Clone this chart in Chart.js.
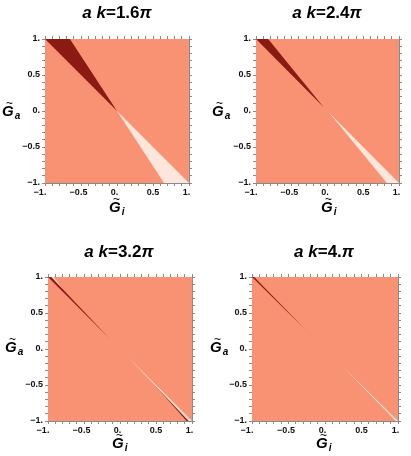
<!DOCTYPE html>
<html>
<head>
<meta charset="utf-8">
<script src="https://cdn.jsdelivr.net/npm/chart.js@4.4.1/dist/chart.umd.min.js"></script>
<style>
  body { margin: 0; background: #fff; width: 411px; height: 456px; position: relative; overflow: hidden;
         font-family: "Liberation Sans", Arial, sans-serif; }
  canvas { position: absolute; }
  .title { position: absolute; font-weight: bold; font-size: 17px; white-space: nowrap; transform: translateX(-50%); color: #000; }
  .title i { font-style: italic; }
  .lab { position: absolute; font-weight: bold; font-style: italic; font-size: 15px; color: #000; white-space: nowrap; }
  .lab .tl { position: absolute; font-size: 12px; left: 4px; top: -6px; font-style: normal; font-weight: normal; }
  .lab sub { font-size: 10px; vertical-align: -3px; margin-left: 1px; }
</style>
</head>
<body>
<canvas id="c0" width="205" height="228" style="left:0;top:0"></canvas>
<canvas id="c1" width="206" height="228" style="left:205px;top:0"></canvas>
<canvas id="c2" width="205" height="228" style="left:0;top:228px"></canvas>
<canvas id="c3" width="206" height="228" style="left:205px;top:228px"></canvas>
<script>
// a k values (in units of pi) for each panel
var panelK = ['1.6', '2.4', '3.2', '4.'];

var tickValues = [-1, -0.5, 0, 0.5, 1];
var tickLabels = ['\u22121.', '\u22120.5', '0.', '0.5', '1.'];
// spaces so the decimal point sits on the tick (like the original)
var tickPad = ['    ', '  ', '  ', '', '  '];

var square = {x: [-1, 1, 1, -1], y: [-1, -1, 1, 1]};

// dark region (upper left of the diagonal)
var darkX = [[-1, -0.654, 0], [-1, -0.83, -0.05], [-1, -0.955, -0.15], [-1, -0.97, -0.25]];
var darkY = [[1, 1, 0], [1, 1, 0.05], [1, 1, 0.15], [1, 1, 0.25]];
// light region (lower right of the diagonal)
var lightX = [[0, 0.654, 1], [0.02, 0.83, 1], [0.1, 0.96, 1], [0.25, 0.97, 1]];
var lightY = [[0, -1, -1], [-0.02, -1, -1], [-0.1, -1, -1], [-0.25, -1, -1]];
// thin extra strips seen in the 3.2 pi panel
var stripLightX = [-0.955, -0.92, -0.72];
var stripLightY = [1, 1, 0.72];
var stripDarkX = [0.5, 0.925, 0.95];
var stripDarkY = [-0.52, -1, -1];

var salmon = '#f99272';
var dark = '#8b1a13';
var light = '#fde6db';

// canvas size and plot area (inside the canvas)
var boxes = [
  {w: 205, h: 228, l: 45, t: 39, r: 189, b: 183},
  {w: 206, h: 228, l: 51, t: 39, r: 194, b: 183},
  {w: 205, h: 228, l: 48, t: 49, r: 192, b: 193},
  {w: 206, h: 228, l: 47, t: 49, r: 193, b: 193}
];

function pts(xs, ys) {
  var out = [];
  for (var i in xs) out.push({x: xs[i], y: ys[i]});
  out.push({x: xs[0], y: ys[0]});
  return out;
}

function poly(xs, ys, color) {
  return {
    data: pts(xs, ys),
    showLine: true,
    fill: 'shape',
    backgroundColor: color,
    borderColor: color,
    borderWidth: 0,
    pointRadius: 0,
    tension: 0
  };
}

function tickLabel(v) {
  for (var i = 0; i < tickValues.length; i++) {
    if (Math.abs(tickValues[i] - v) < 1e-6) return tickLabels[i];
  }
  return '';
}

function axis(pos, showLabels, fitSize) {
  var horiz = pos == 'bottom' || pos == 'top';
  return {
    type: 'linear',
    position: pos,
    min: -1,
    max: 1,
    grid: { drawOnChartArea: false, drawTicks: true, tickLength: 3, color: '#8a8a8a', lineWidth: 1 },
    border: { display: true, color: '#8a8a8a', width: 1 },
    ticks: {
      display: showLabels,
      stepSize: 0.1,
      autoSkip: false,
      maxRotation: 0,
      padding: horiz ? 1 : 2,
      color: '#111',
      font: { family: '"Liberation Sans", Arial, sans-serif', weight: 'bold', size: 9 },
      callback: function(v) {
        var s = tickLabel(v);
        if (horiz && s) s = s + tickPad[tickLabels.indexOf(s)];
        return s;
      }
    },
    afterFit: function(s) {
      if (horiz) s.height = fitSize; else s.width = fitSize;
    }
  };
}

function makePanel(i) {
  var b = boxes[i];
  var sets = [
    poly(darkX[i], darkY[i], dark),
    poly(lightX[i], lightY[i], light)
  ];
  if (i == 2) {
    sets.push(poly(stripLightX, stripLightY, light));
    sets.push(poly(stripDarkX, stripDarkY, dark));
  }
  sets.push(poly(square.x, square.y, salmon));

  new Chart(document.getElementById('c' + i), {
    type: 'scatter',
    data: { datasets: sets },
    options: {
      responsive: false,
      animation: false,
      devicePixelRatio: 1,
      layout: { padding: 0 },
      plugins: { legend: { display: false }, tooltip: { enabled: false } },
      scales: {
        x: axis('bottom', true, b.h - b.b),
        x2: axis('top', false, b.t),
        y: axis('left', true, b.l),
        y2: axis('right', false, b.w - b.r)
      }
    }
  });
}

for (var i = 0; i < 4; i++) makePanel(i);

// titles and axis labels
var titlePos = [[117, 3], [327, 3], [119, 242], [324, 242]];
var yLabPos = [[2, 102], [212, 102], [5, 338], [210, 338]];
var xLabPos = [[109, 198], [321, 198], [112, 434], [316, 434]];
for (var j = 0; j < 4; j++) {
  var t = document.createElement('div');
  t.className = 'title';
  t.style.left = titlePos[j][0] + 'px';
  t.style.top = titlePos[j][1] + 'px';
  t.innerHTML = '<i>a k</i>=' + panelK[j] + '<i>\u03c0</i>';
  document.body.appendChild(t);

  var ya = document.createElement('div');
  ya.className = 'lab';
  ya.style.left = yLabPos[j][0] + 'px';
  ya.style.top = yLabPos[j][1] + 'px';
  ya.innerHTML = '<span class="tl">~</span>G<sub>a</sub>';
  document.body.appendChild(ya);

  var xa = document.createElement('div');
  xa.className = 'lab';
  xa.style.left = xLabPos[j][0] + 'px';
  xa.style.top = xLabPos[j][1] + 'px';
  xa.innerHTML = '<span class="tl">~</span>G<sub>i</sub>';
  document.body.appendChild(xa);
}
</script>
</body>
</html>
